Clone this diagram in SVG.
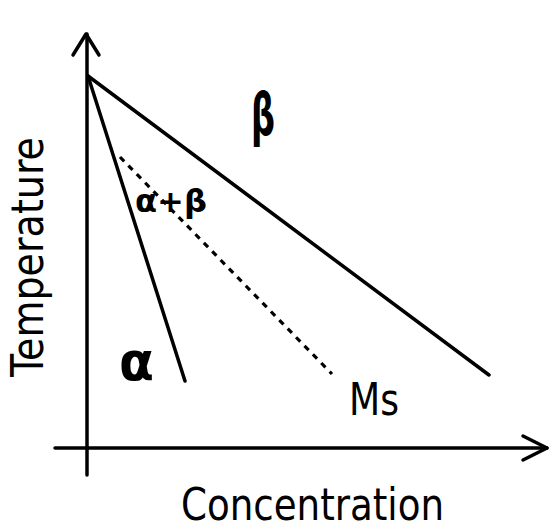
<svg xmlns="http://www.w3.org/2000/svg" width="557" height="531" viewBox="0 0 557 531">
<style>
.ln{stroke:#000;stroke-width:3.5;fill:none;stroke-linecap:round;stroke-linejoin:round}
.dash{stroke:#000;stroke-width:3.2;fill:none;stroke-dasharray:6 6}
.lbl{font-family:"DejaVu Sans Condensed","Liberation Sans",sans-serif;fill:#000}
.gr{font-family:"DejaVu Sans","Liberation Sans",sans-serif;font-weight:bold;fill:#000}
</style>
<rect width="557" height="531" fill="#fff"/>
<g id="axes">
<path class="ln" d="M87,475 L87,34"/>
<path class="ln" d="M73,55 L86,34 L99,55"/>
<path class="ln" d="M55,448 L547,448"/>
<path class="ln" d="M523,436 L547,448 L523,460"/>
</g>
<g id="connectors">
<path class="ln" d="M88,76 L489,375"/>
<path class="ln" d="M88,76 L185,381"/>
<path class="dash" d="M120,157 L332,374"/>
</g>
<g id="labels">
<text class="gr" x="251" y="135" font-size="58" textLength="24" lengthAdjust="spacingAndGlyphs">β</text>
<text class="gr" x="135" y="212" font-size="31" textLength="72" lengthAdjust="spacingAndGlyphs">α+β</text>
<text class="gr" x="119" y="380" font-size="54" textLength="35" lengthAdjust="spacingAndGlyphs">α</text>
<text class="lbl" x="349" y="415" font-size="44" textLength="50" lengthAdjust="spacingAndGlyphs">Ms</text>
<text class="lbl" x="181" y="520" font-size="44" textLength="263" lengthAdjust="spacingAndGlyphs">Concentration</text>
<text class="lbl" transform="translate(43,377) rotate(-90)" font-size="44" textLength="240" lengthAdjust="spacingAndGlyphs">Temperature</text>
</g>
</svg>
